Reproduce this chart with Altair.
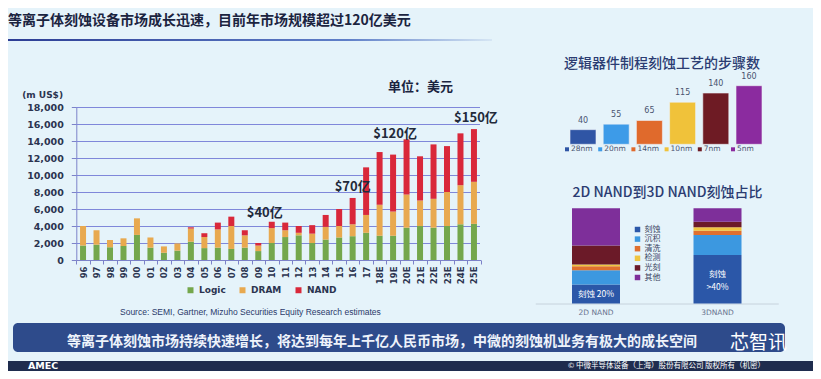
import altair as alt
import pandas as pd

# ---------------- data ----------------
years = ["96", "97", "98", "99", "00", "01", "02", "03", "04", "05", "06", "07", "08", "09",
         "10", "11", "12", "13", "14", "15", "16", "17", "18E", "19E", "20E", "21E", "22E",
         "23E", "24E", "25E"]
logic = [1700, 1800, 1500, 1650, 2950, 1450, 850, 1100, 2150, 1400, 1450, 1300, 1450, 1050,
         2000, 2700, 2900, 2000, 2400, 2650, 2800, 3200, 2850, 2850, 3800, 4000, 3800, 4000,
         4200, 4250]
dram = [2300, 1700, 850, 900, 1950, 1200, 750, 850, 1550, 1300, 2150, 2700, 1450, 650,
        1750, 800, 300, 1100, 1500, 1350, 1400, 2100, 3650, 2850, 3900, 3000, 3400, 4000,
        4600, 4950]
nand = [0, 0, 0, 0, 0, 0, 0, 0, 150, 450, 800, 1100, 600, 300,
        750, 900, 800, 1000, 1400, 2000, 3100, 5600, 6200, 6700, 6500, 5200, 6400, 5400,
        6100, 6200]
segments = ["Logic", "DRAM", "NAND"]
seg_colors = ["#74a74c", "#e8a94f", "#d9283a"]
y_ticks = [0, 2000, 4000, 6000, 8000, 10000, 12000, 14000, 16000, 18000]

ann_text = ["$40亿", "$70亿", "$120亿", "$150亿"]
ann_year = ["10", "16", "19E", "25E"]
ann_value = [5530, 8590, 14820, 16700]

nodes = ["28nm", "20nm", "14nm", "10nm", "7nm", "5nm"]
steps = [40, 55, 65, 115, 140, 160]
node_colors = ["#2f55a5", "#3d9be8", "#e06a2c", "#f0c23a", "#6e1b24", "#8b2b9f"]

nand_types = ["2D NAND", "3DNAND"]
processes = ["刻蚀", "沉积", "清洗", "检测", "光刻", "其他"]
share_2d = [20, 15, 4, 2, 20, 39]
share_3d = [51, 21, 4.5, 3.5, 6, 14]
proc_colors = ["#2b57a8", "#3c98e0", "#e0702e", "#f0c540", "#6b1a28", "#7e2f9a"]
nand_lab_text = ["刻蚀 20%", "刻蚀", ">40%"]
nand_lab_type = ["2D NAND", "3DNAND", "3DNAND"]
nand_lab_pos = [10.5, 30.5, 17.5]

# ---------------- layout ----------------
W, H = 805, 363
CJK = "Noto Sans CJK SC"
DARK = "#1b2440"
AXC = "#7c82c9"

main_rows = []
for i, yr in enumerate(years):
    for k, (seg, vals) in enumerate(zip(segments, [logic, dram, nand])):
        main_rows.append({"year": yr, "segment": seg, "value": vals[i], "k": k})
main_df = pd.DataFrame(main_rows)

X0, X1 = 68.3, 472.7
Y0, Y1 = 252, 99
xs = alt.Scale(domain=years, range=[X0, X1], paddingInner=0, paddingOuter=0)
ys = alt.Scale(domain=[0, 18000], range=[Y0, Y1], nice=False)

x_axis = alt.Axis(orient="bottom", offset=Y0 - H, title=None, labelAngle=270,
                  labelAlign="right", labelBaseline="middle", labelFontSize=8.5,
                  labelFontWeight="bold", labelFont="DejaVu Sans", labelColor="#2b3450",
                  labelPadding=2, tickSize=4, tickBand="extent", domainColor=AXC,
                  tickColor=AXC, grid=False, labelOverlap=False)
y_axis = alt.Axis(orient="left", offset=-X0, title=None, values=y_ticks, format=",d",
                  labelFontSize=9.5, labelFontWeight="bold", labelFont="DejaVu Sans",
                  labelColor="#2b3450", labelPadding=8, tickSize=5, domainColor=AXC,
                  tickColor=AXC, grid=False)

# horizontal gridlines on their own layer: a 0..1 horizontal span mapped onto the plot
grid_df = pd.DataFrame({"gv": y_ticks[1:], "gx0": 0, "gx1": 1})
grid = alt.Chart(grid_df).mark_rule(color="#7f87da", strokeWidth=1.1, yOffset=0.5).encode(
    x=alt.X("gx0:Q", scale=alt.Scale(domain=[0, 1], range=[X0, 472], nice=False), axis=None),
    x2="gx1:Q",
    y=alt.Y("gv:Q", scale=ys, axis=None),
)

bars = alt.Chart(main_df).mark_bar(size=6).encode(
    x=alt.X("year:N", scale=xs, sort=years, axis=x_axis),
    y=alt.Y("value:Q", scale=ys, stack="zero", axis=y_axis),
    color=alt.Color("segment:N", scale=alt.Scale(domain=segments, range=seg_colors),
                    legend=alt.Legend(orient="none", legendX=178, legendY=277.5,
                                      direction="horizontal", title=None,
                                      symbolType="square", symbolSize=36,
                                      symbolStrokeWidth=0, labelFontSize=9,
                                      labelFont="DejaVu Sans", labelFontWeight="bold",
                                      labelColor="#2b3450", columnPadding=12,
                                      labelOffset=4, padding=0)),
    order=alt.Order("k:Q"),
)

ann_df = pd.DataFrame({"text": ann_text, "year": ann_year, "value": ann_value})
ann_dx = [-7, 0, 2, 2]
ann_layers = []
for i in range(len(ann_text)):
    ann_layers.append(
        alt.Chart(ann_df.iloc[[i]]).mark_text(
            fontSize=13, fontWeight="bold", font=CJK, color="#222a3a", dx=ann_dx[i]
        ).encode(x=alt.X("year:N", scale=xs, sort=years, axis=x_axis),
                 y=alt.Y("value:Q", scale=ys, axis=y_axis), text="text:N")
    )

main = alt.layer(bars, *ann_layers)

# ---- logic process steps chart ----
steps_df = pd.DataFrame({"node": nodes, "steps": steps})
sxs = alt.Scale(domain=nodes, range=[558.4, 757.6], paddingInner=0, paddingOuter=0)
sys_ = alt.Scale(domain=[0, 160], range=[136.3, 77.7], nice=False)
ncol = alt.Scale(domain=nodes, range=node_colors)
sX = alt.X("node:N", scale=sxs, sort=nodes, axis=None)
sb = alt.Chart(steps_df)
s_bars = sb.mark_bar(size=26, stroke="#eef2f6", strokeWidth=0.6).encode(
    x=sX, y=alt.Y("steps:Q", scale=sys_, axis=None),
    color=alt.Color("node:N", scale=ncol, legend=None))
s_lab = sb.mark_text(baseline="bottom", dy=-5, fontSize=8, font="DejaVu Sans",
                     color="#4a5470").encode(
    x=sX, y=alt.Y("steps:Q", scale=sys_, axis=None), text="steps:Q")
s_sq = sb.mark_square(size=16, xOffset=-16, opacity=1).encode(
    x=sX, y=alt.value(141.3), color=alt.Color("node:N", scale=ncol, legend=None))
s_tx = sb.mark_text(xOffset=-12, align="left", fontSize=7.5, font="DejaVu Sans",
                    color="#4a5470").encode(x=sX, y=alt.value(141.3), text="node:N")
steps_chart = alt.layer(s_bars, s_lab, s_sq, s_tx)

# ---- NAND share chart ----
nand_rows = []
for t, shares in zip(nand_types, [share_2d, share_3d]):
    for k, (p, s) in enumerate(zip(processes, shares)):
        nand_rows.append({"type": t, "process": p, "share": s, "k": k})
nand_df = pd.DataFrame(nand_rows)
nxs = alt.Scale(domain=nand_types, range=[527.25, 770.25], paddingInner=0, paddingOuter=0)
nys = alt.Scale(domain=[0, 100], range=[295.5, 200.3], nice=False)
nx_axis = alt.Axis(orient="bottom", offset=295.5 - H, title=None, ticks=False,
                   labelFontSize=7.5, labelFont="DejaVu Sans", labelColor="#6a7490",
                   labelPadding=5, domainColor="#c6d2dc", labelAngle=0, grid=False)
n_bars = alt.Chart(nand_df).mark_bar(size=48).encode(
    x=alt.X("type:N", scale=nxs, sort=nand_types, axis=nx_axis),
    y=alt.Y("share:Q", scale=nys, stack="zero", axis=None),
    color=alt.Color("process:N", scale=alt.Scale(domain=processes, range=proc_colors),
                    legend=alt.Legend(orient="none", legendX=625.5, legendY=217.5,
                                      title=None, symbolType="square", symbolSize=30,
                                      symbolStrokeWidth=0, labelFontSize=8, labelFont=CJK,
                                      labelColor="#3a4460", rowPadding=1.6, labelOffset=3,
                                      padding=0)),
    order=alt.Order("k:Q"),
)
nlab_df = pd.DataFrame({"type": nand_lab_type, "text": nand_lab_text, "pos": nand_lab_pos})
n_lab = alt.Chart(nlab_df).mark_text(fontSize=8.5, font=CJK, color="#ffffff").encode(
    x=alt.X("type:N", scale=nxs, sort=nand_types, axis=nx_axis),
    y=alt.Y("pos:Q", scale=nys, axis=None), text="text:N")
nand_chart = alt.layer(n_bars, n_lab)

# ---------------- decorations ----------------
one = pd.DataFrame({"a": [0]})


def rect(x, x2, y, y2, **kw):
    return alt.Chart(one).mark_rect(**kw).encode(
        x=alt.value(x), x2=alt.value(x2), y=alt.value(y), y2=alt.value(y2))


def label(text, x, y, **kw):
    return alt.Chart(one).mark_text(text=text, **kw).encode(x=alt.value(x), y=alt.value(y))


underline_grad = alt.Gradient(
    gradient="linear", x1=0, x2=1, y1=0, y2=0,
    stops=[alt.GradientStop(color="#2c3d94", offset=0),
           alt.GradientStop(color="#5f7fc8", offset=0.7),
           alt.GradientStop(color="#d6e6f4", offset=1)])

decor = [
    rect(0, 484, 31, 33, color=underline_grad),
    label("等离子体刻蚀设备市场成长迅速，目前年市场规模超过120亿美元", 0, 13,
          align="left", baseline="middle", fontSize=14, fontWeight="bold", font=CJK,
          color=DARK),
    label("(m US$)", 55, 87, align="right", baseline="middle", fontSize=9,
          fontWeight="bold", font="DejaVu Sans", color="#2b3450"),
    label("单位：美元", 380, 79, align="left", baseline="middle", fontSize=13,
          fontWeight="bold", font=CJK, color=DARK),
    label("Source: SEMI, Gartner, Mizuho Securities Equity Research estimates", 112, 304,
          align="left", baseline="middle", fontSize=8.5, font="Liberation Sans",
          color="#2b3a6a"),
    label("逻辑器件制程刻蚀工艺的步骤数", 654, 56, align="center", baseline="middle",
          fontSize=14, fontWeight=500, font=CJK, color="#2b3c72"),
    label("2D NAND到3D NAND刻蚀占比", 659.5, 184.7, align="center", baseline="middle",
          fontSize=14, fontWeight=500, font=CJK, color="#2b3c72"),
    rect(5, 777, 315, 344, color="#2e4b8b", cornerRadius=5),
    label("等离子体刻蚀市场持续快速增长，将达到每年上千亿人民币市场，中微的刻蚀机业务有极大的成长空间",
          59, 334, align="left", baseline="middle", fontSize=14, fontWeight="bold",
          font=CJK, color="#eef3fb"),
    label("芯智讯", 722, 335, align="left", baseline="middle", fontSize=19, font=CJK,
          color="#ffffff"),
    rect(0, W, 353, H, color="#1f2c4e"),
    label("AMEC", 20, 358, align="left", baseline="middle", fontSize=9.5,
          fontWeight="bold", font="DejaVu Sans", color="#ffffff"),
    label("© 中微半导体设备（上海）股份有限公司 版权所有（机密）", 560, 358, align="left",
          baseline="middle", fontSize=7.5, font=CJK, color="#ffffff"),
]

chart = alt.layer(*decor, grid, main, steps_chart, nand_chart).resolve_scale(
    x="independent", y="independent", color="independent"
).properties(
    width=W, height=H, padding=0, autosize=alt.AutoSizeParams(type="none"),
    background="#e5f3fa"
).configure_view(stroke=None)

chart.save("out.html", embed_options={"renderer": "svg", "actions": False})
